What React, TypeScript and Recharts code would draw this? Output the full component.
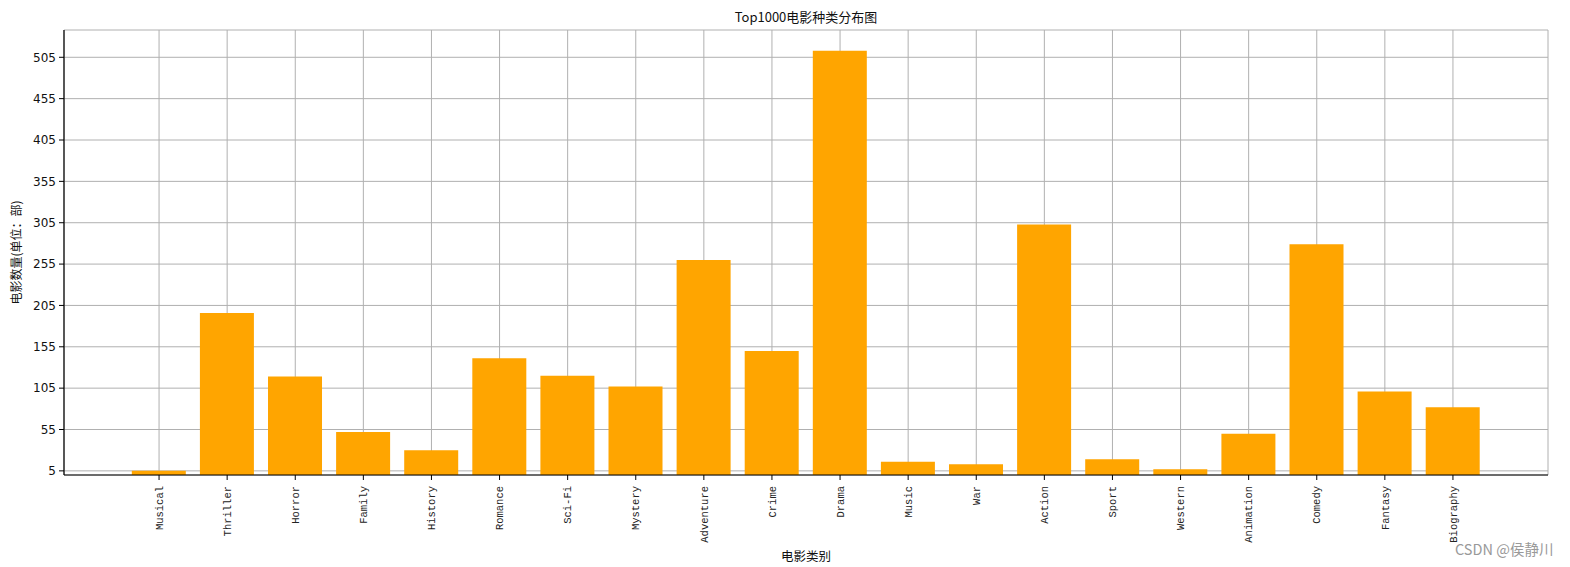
import { BarChart, Bar, XAxis, YAxis, CartesianGrid, Label } from "recharts";

const categories = [
  "Musical", "Thriller", "Horror", "Family", "History", "Romance", "Sci-Fi",
  "Mystery", "Adventure", "Crime", "Drama", "Music", "War", "Action",
  "Sport", "Western", "Animation", "Comedy", "Fantasy", "Biography",
];
const counts = [5, 196, 119, 52, 30, 141, 120, 107, 260, 150, 513, 16, 13, 303, 19, 7, 50, 279, 101, 82];
const yTicks = [5, 55, 105, 155, 205, 255, 305, 355, 405, 455, 505];

const data = categories.map((name, i) => ({ name, count: counts[i] }));

const CJK = "'Noto Sans CJK SC', 'DejaVu Sans', sans-serif";

function XTick({ x, y, payload }: any) {
  return (
    <g transform={`translate(${x},${y + 4})`}>
      <text
        transform="rotate(-90)"
        textAnchor="end"
        dy="0.35em"
        fontFamily="'Liberation Mono', monospace"
        fontSize={10.5}
        fill="#222"
      >
        {payload.value}
      </text>
    </g>
  );
}

export default function App() {
  return (
    <div style={{ position: "absolute", left: 0, top: 0, width: 1570, height: 567, background: "#fff" }}>
      <div
        style={{
          position: "absolute",
          left: 0,
          width: 1612,
          top: 8,
          textAlign: "center",
          fontFamily: CJK,
          fontSize: 13,
          color: "#111",
          lineHeight: "18px",
        }}
      >
        Top1000电影种类分布图
      </div>
      <BarChart
        width={1570}
        height={567}
        data={data}
        margin={{ top: 30, right: 22, bottom: 0, left: 0 }}
        barCategoryGap="10%"
      >
        <XAxis
          dataKey="name"
          interval={0}
          height={92}
          padding={{ left: 61, right: 61 }}
          axisLine={{ stroke: "#000", strokeWidth: 1.2 }}
          tickLine={{ stroke: "#000" }}
          tickSize={5}
          tick={<XTick />}
        >
          <Label value="电影类别" position="insideBottom" offset={6} fontFamily={CJK} fontSize={12.5} fill="#111" />
        </XAxis>
        <XAxis
          xAxisId="top"
          dataKey="name"
          orientation="top"
          height={0}
          tick={false}
          tickLine={false}
          axisLine={{ stroke: "#000", strokeWidth: 1.2 }}
        />
        <YAxis
          domain={[0, 538]}
          ticks={yTicks}
          width={64}
          allowDataOverflow
          axisLine={{ stroke: "#000", strokeWidth: 1.2 }}
          tickLine={{ stroke: "#000" }}
          tickSize={5}
          tickMargin={3}
          tick={{ fill: "#111", fontSize: 12, fontFamily: "'DejaVu Sans', sans-serif" }}
        >
          <Label
            value="电影数量(单位：部)"
            angle={-90}
            position="insideLeft"
            offset={17}
            style={{ textAnchor: "middle" }}
            fontFamily={CJK}
            fontSize={12}
            fill="#111"
          />
        </YAxis>
        <YAxis
          yAxisId="right"
          orientation="right"
          width={0}
          domain={[0, 538]}
          tick={false}
          tickLine={false}
          axisLine={{ stroke: "#000", strokeWidth: 1.2 }}
        />
        <Bar dataKey="count" fill="#FFA500" isAnimationActive={false} />
        <CartesianGrid stroke="#b0b0b0" strokeWidth={1} />
      </BarChart>
      <div
        style={{
          position: "absolute",
          left: 1455,
          top: 540,
          fontFamily: CJK,
          fontSize: 14.5,
          color: "#999",
          lineHeight: "18px",
        }}
      >
        CSDN @侯静川
      </div>
    </div>
  );
}
